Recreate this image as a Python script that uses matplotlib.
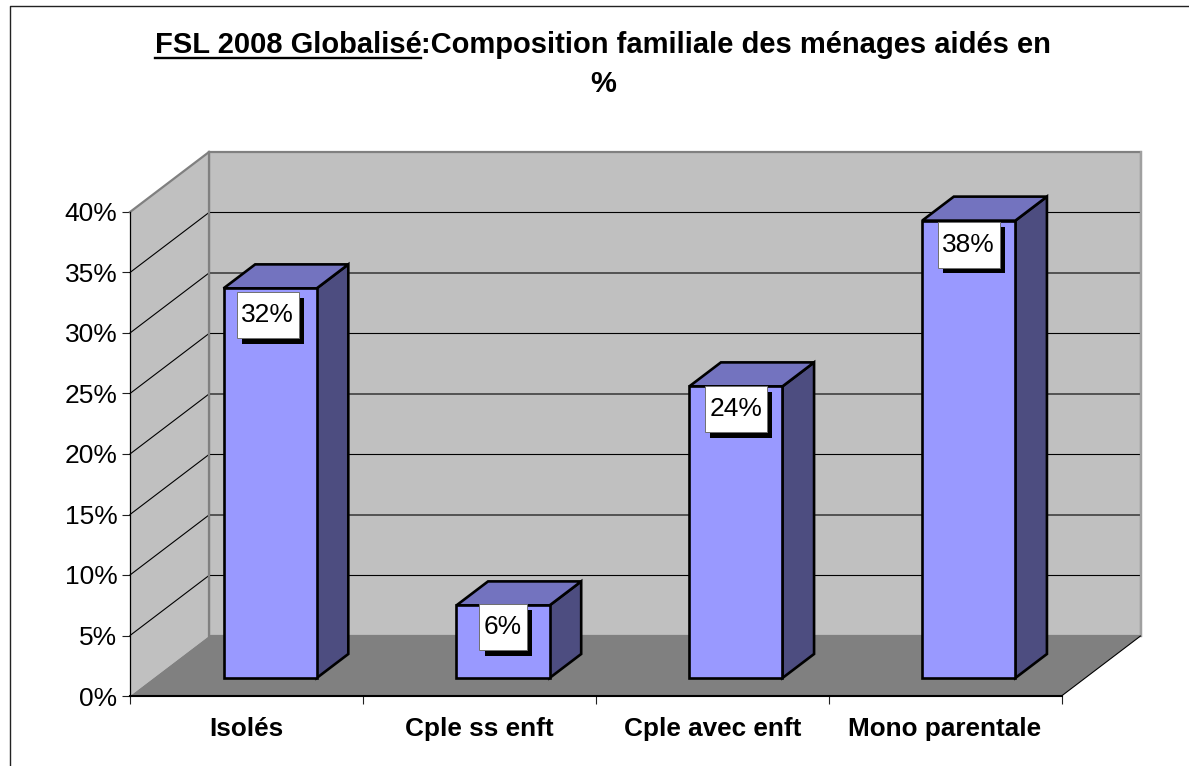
import matplotlib
matplotlib.use("Agg")
import matplotlib.pyplot as plt
from matplotlib.patches import Polygon, Rectangle

plt.rcParams['font.family'] = ['Liberation Sans', 'DejaVu Sans']

categories = ['Isolés', 'Cple ss enft', 'Cple avec enft', 'Mono parentale']
values = [32.2, 6.0, 24.1, 37.8]
value_labels = ['32%', '6%', '24%', '38%']
y_ticks = [0, 5, 10, 15, 20, 25, 30, 35, 40]

W, H = 1189, 766
LEFT, RIGHT, TOP, BOTTOM = 130, 1061.5, 212, 696  # pixels du plan avant

DEPTH_X = 79 / ((RIGHT - LEFT) / 4)  # profondeur du cadre, unites categorie
DEPTH_Y = 60 / ((BOTTOM - TOP) / 40)  # profondeur du cadre, unites %
BAR_W = 0.4
BAR_SHIFT = 0.3
BAR_DEPTH = 0.4

fig = plt.figure(figsize=(W / 100, H / 100), dpi=100, facecolor='white')
ax = fig.add_axes([LEFT / W, 1 - BOTTOM / H, (RIGHT - LEFT) / W, (BOTTOM - TOP) / H])
ax.set_xlim(0, 4)
ax.set_ylim(0, 40)
ax.patch.set_visible(False)


def poly(points, face, edge='none', lw=0, z=1):
    ax.add_patch(Polygon(points, closed=True, facecolor=face, edgecolor=edge, linewidth=lw,
                         zorder=z, clip_on=False, joinstyle='miter'))


# murs et sol
poly([(DEPTH_X, DEPTH_Y), (4 + DEPTH_X, DEPTH_Y), (4 + DEPTH_X, 40 + DEPTH_Y), (DEPTH_X, 40 + DEPTH_Y)],
     '#C0C0C0', '#808080', 1.6, 1)
poly([(0, 0), (DEPTH_X, DEPTH_Y), (DEPTH_X, 40 + DEPTH_Y), (0, 40)], '#C0C0C0', z=1)
ax.plot([0, DEPTH_X], [40, 40 + DEPTH_Y], color='#808080', lw=1.6, zorder=2, clip_on=False)
poly([(0, 0), (4, 0), (4 + DEPTH_X, DEPTH_Y), (DEPTH_X, DEPTH_Y)], '#808080', z=2)
ax.plot([4, 4 + DEPTH_X], [0, DEPTH_Y], color='black', lw=0.8, zorder=3, clip_on=False)

for v in y_ticks[1:-1]:
    ax.plot([0, DEPTH_X, 4 + DEPTH_X], [v, v + DEPTH_Y, v + DEPTH_Y], color='black', lw=0.8,
            zorder=2.5, clip_on=False)
ax.plot([DEPTH_X, DEPTH_X], [DEPTH_Y, 40 + DEPTH_Y], color='#808080', lw=1.6, zorder=2.6, clip_on=False)
ax.plot([4 + DEPTH_X, 4 + DEPTH_X], [DEPTH_Y, 40 + DEPTH_Y], color='#A0A0A0', lw=1.6, zorder=2.6, clip_on=False)

# barres
for i, v in enumerate(values):
    x0 = i + 0.5 - BAR_W / 2 + BAR_SHIFT * DEPTH_X
    x1 = x0 + BAR_W
    y0 = BAR_SHIFT * DEPTH_Y
    y1 = y0 + v
    dx = BAR_DEPTH * DEPTH_X
    dy = BAR_DEPTH * DEPTH_Y
    poly([(x1, y0), (x1 + dx, y0 + dy), (x1 + dx, y1 + dy), (x1, y1)], '#4D4D80', 'black', 1.9, 5)
    poly([(x0, y1), (x1, y1), (x1 + dx, y1 + dy), (x0 + dx, y1 + dy)], '#7373BF', 'black', 1.9, 5)
    poly([(x0, y0), (x1, y0), (x1, y1), (x0, y1)], '#9999FF', 'black', 1.9, 6)

# axes
for s in ['top', 'right']:
    ax.spines[s].set_visible(False)
ax.spines['left'].set_linewidth(0.9)
ax.spines['bottom'].set_linewidth(1.5)
ax.spines['left'].set_zorder(4)
ax.spines['bottom'].set_zorder(4)
ax.set_yticks(y_ticks)
ax.set_yticklabels(['%d%%' % v for v in y_ticks], fontsize=19)
ax.set_xticks([0, 1, 2, 3, 4])
ax.set_xticklabels([])
ax.tick_params(axis='both', length=6, width=0.8, color='#202020')
ax.tick_params(axis='y', pad=3)
for i, c in enumerate(categories):
    ax.annotate(c, (i + 0.5, 0), xytext=(0, -24), textcoords='offset points', ha='center', va='center',
                fontsize=18.8, fontweight='bold', annotation_clip=False)

fig.canvas.draw()
renderer = fig.canvas.get_renderer()

# etiquettes de valeur avec ombre
label_dx = [-2.5, 0, 0, 0]
label_dy = [27, 22, 23, 24]
for i, v in enumerate(values):
    px, py = ax.transData.transform((i + 0.5 + BAR_SHIFT * DEPTH_X, BAR_SHIFT * DEPTH_Y + v))
    cx = px + label_dx[i]
    cy = py - label_dy[i]
    t = fig.text(cx / W, cy / H, value_labels[i], ha='center', va='center', fontsize=19, zorder=12)
    tw = t.get_window_extent(renderer).width + 9
    fig.add_artist(Rectangle((cx - tw / 2 + 5.5, cy - 23 - 5.5), tw, 46, transform=None, facecolor='black',
                             edgecolor='none', zorder=10))
    fig.add_artist(Rectangle((cx - tw / 2, cy - 23), tw, 46, transform=None, facecolor='white',
                             edgecolor='#707070', linewidth=0.7, zorder=11))

# titre, premiere partie soulignee
title_size = 21
t1 = fig.text(0, 1 - 45 / H, 'FSL 2008 Globalisé', fontsize=title_size, fontweight='bold', va='center')
t2 = fig.text(0, 1 - 45 / H, ':Composition familiale des ménages aidés en', fontsize=title_size,
              fontweight='bold', va='center')
w1 = t1.get_window_extent(renderer).width
w2 = t2.get_window_extent(renderer).width
start = 603 - (w1 + w2) / 2
t1.set_x(start / W)
t2.set_x((start + w1) / W)
fig.add_artist(plt.Line2D([start, start + w1], [H - 58, H - 58], transform=None, color='black', lw=1.7))
fig.text(603 / W, 1 - 84 / H, '%', fontsize=title_size, fontweight='bold', ha='center', va='center')

# cadre du graphique
fig.add_artist(plt.Line2D([9.5, 9.5, W], [0, H - 5.5, H - 5.5], transform=None, color='#222222', lw=1.0))

fig.savefig('out.png', dpi=100)
